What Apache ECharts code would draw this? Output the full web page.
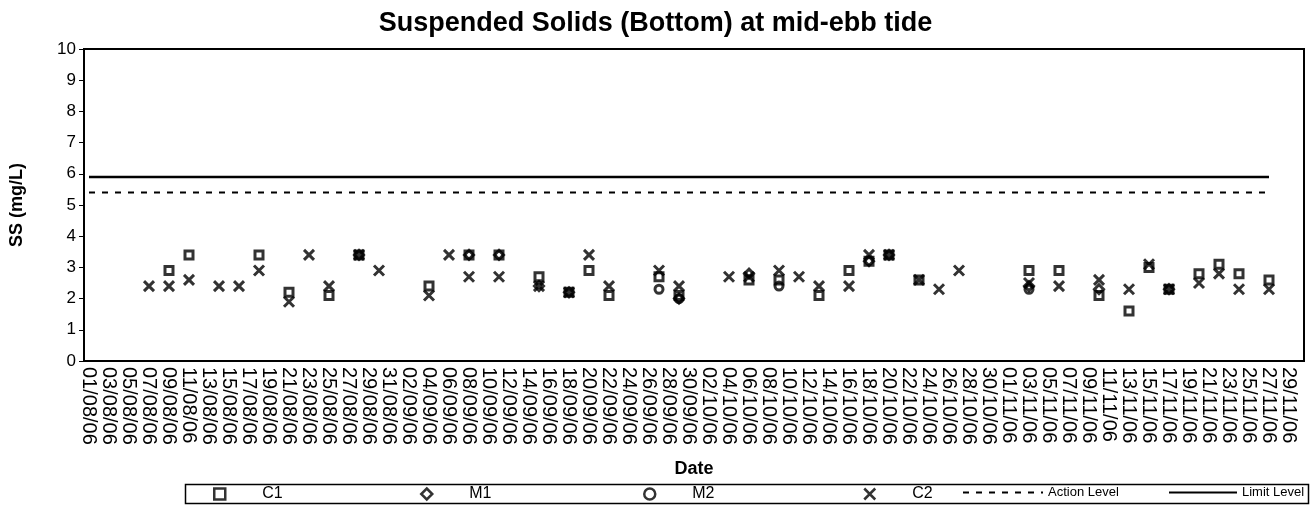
<!DOCTYPE html>
<html>
<head>
<meta charset="utf-8">
<title>Suspended Solids (Bottom) at mid-ebb tide</title>
<script src="https://cdn.jsdelivr.net/npm/echarts@6/dist/echarts.min.js"></script>
<style>
html, body { margin: 0; padding: 0; background: #fff; }
#chart { width: 1311px; height: 522px; }
</style>
</head>
<body>
<div id="chart"></div>
<script>
// sampling dates (dd/mm/yy) and readings, null = no marker
var sampleDates = ['07/08/06', '09/08/06', '11/08/06', '14/08/06', '16/08/06', '18/08/06', '21/08/06',
    '23/08/06', '25/08/06', '28/08/06', '30/08/06', '04/09/06', '06/09/06', '08/09/06', '11/09/06',
    '15/09/06', '18/09/06', '20/09/06', '22/09/06', '27/09/06', '29/09/06', '04/10/06', '06/10/06',
    '09/10/06', '11/10/06', '13/10/06', '16/10/06', '18/10/06', '20/10/06', '23/10/06', '25/10/06',
    '27/10/06', '03/11/06', '06/11/06', '10/11/06', '13/11/06', '15/11/06', '17/11/06', '20/11/06',
    '22/11/06', '24/11/06', '27/11/06'];
var c1 = [null, 2.9, 3.4, null, null, 3.4, 2.2, null, 2.1, 3.4, null, 2.4, null, 3.4, 3.4, 2.7, 2.2, 2.9, 2.1, 2.7, 2.1,
    null, 2.6, 2.6, null, 2.1, 2.9, 3.2, 3.4, 2.6, null, null, 2.9, 2.9, 2.1, 1.6, 3.0, 2.3, 2.8, 3.1, 2.8, 2.6];
var m1 = [null, null, null, null, null, null, null, null, null, 3.4, null, null, null, 3.4, 3.4, 2.4, 2.2, null, null, null, 2.0,
    null, 2.8, null, null, null, null, 3.2, 3.4, null, null, null, 2.4, null, 2.3, null, null, 2.3, null, null, null, null];
var m2 = [null, null, null, null, null, null, null, null, null, null, null, null, null, null, null, null, null, null, null, 2.3, 2.0,
    null, null, 2.4, null, null, null, null, null, null, null, null, 2.3, null, null, null, null, null, null, null, null, null];
var c2 = [2.4, 2.4, 2.6, 2.4, 2.4, 2.9, 1.9, 3.4, 2.4, 3.4, 2.9, 2.1, 3.4, 2.7, 2.7, 2.4, 2.2, 3.4, 2.4, 2.9, 2.4,
    2.7, 2.7, 2.9, 2.7, 2.4, 2.4, 3.4, 3.4, 2.6, 2.3, 2.9, 2.5, 2.4, 2.6, 2.3, 3.1, 2.3, 2.5, 2.8, 2.3, 2.3];

var levelDates = ['01/08/06', '27/11/06'];
var actionLevel = 5.4;
var limitLevel = 5.9;

// the date axis runs one category per day
var axisStart = '01/08/06';
var axisEnd = '30/11/06';

var FONT = '"Liberation Sans", Arial, sans-serif';
var DAY = 86400000;

function toTime(s) {
    var p = s.split('/');
    return Date.UTC(2000 + parseInt(p[2], 10), parseInt(p[1], 10) - 1, parseInt(p[0], 10));
}
function pad(n) {
    return n < 10 ? '0' + n : '' + n;
}
function allDays() {
    var out = [];
    for (var t = toTime(axisStart); t <= toTime(axisEnd); t += DAY) {
        var d = new Date(t);
        out.push(pad(d.getUTCDate()) + '/' + pad(d.getUTCMonth() + 1) + '/' + pad(d.getUTCFullYear() % 100));
    }
    return out;
}
var dayLabels = allDays();

function points(vals) {
    var out = [];
    sampleDates.forEach(function (d, i) {
        if (vals[i] != null) out.push([d, vals[i]]);
    });
    return out;
}
function levelLine(v) {
    return levelDates.map(function (d) { return [d, v]; });
}
function markerLegend(name, left) {
    return {
        data: [name], left: left, top: 486, padding: 0, itemGap: 0,
        itemWidth: 11, itemHeight: 11, selectedMode: false,
        itemStyle: { borderWidth: 2.5 },
        textStyle: { fontFamily: FONT, fontSize: 16, color: '#000', padding: [0, 0, 0, 32] }
    };
}
function lineLegend(name, left, width) {
    return {
        data: [name], left: left, top: 486, padding: 0, itemGap: 0,
        itemWidth: width, itemHeight: 11, selectedMode: false,
        itemStyle: { color: 'rgba(0,0,0,0)', borderColor: 'rgba(0,0,0,0)', borderWidth: 0 },
        textStyle: { fontFamily: FONT, fontSize: 13, color: '#000' }
    };
}

var hollow = { color: 'rgba(0,0,0,0)', borderColor: '#000', borderWidth: 3 };

var myChart = echarts.init(document.getElementById('chart'));
var option = {
    animation: false,
    backgroundColor: '#fff',
    textStyle: { fontFamily: FONT },
    title: {
        text: 'Suspended Solids (Bottom) at mid-ebb tide',
        left: 'center', top: 5,
        textStyle: { fontFamily: FONT, fontSize: 27, fontWeight: 'bold', color: '#000' }
    },
    legend: [
        markerLegend('C1', 213),
        markerLegend('M1', 420),
        markerLegend('M2', 643),
        markerLegend('C2', 863),
        lineLegend('Action Level', 962, 80),
        lineLegend('Limit Level', 1168, 68)
    ],
    graphic: [{
        type: 'rect', left: 183, top: 482,
        shape: { width: 1123, height: 19 },
        style: { fill: 'none', stroke: '#000', lineWidth: 1.5 },
        silent: true, z: -1
    }],
    grid: {
        left: 84, right: 7, top: 49, bottom: 161,
        show: true, borderColor: '#000', borderWidth: 2
    },
    xAxis: {
        type: 'category',
        data: dayLabels,
        boundaryGap: true,
        name: 'Date', nameLocation: 'middle', nameGap: 99,
        nameTextStyle: { fontFamily: FONT, fontSize: 18, fontWeight: 'bold', color: '#000' },
        axisLine: { onZero: false, lineStyle: { color: '#000', width: 2 } },
        axisTick: { interval: 1, length: 5, lineStyle: { color: '#000', width: 1 } },
        axisLabel: { interval: 1, rotate: -90, margin: 6, fontFamily: FONT, fontSize: 20, color: '#000' },
        splitLine: { show: false }
    },
    yAxis: {
        type: 'value',
        min: 0, max: 10, interval: 1,
        name: 'SS (mg/L)', nameLocation: 'middle', nameGap: 58,
        nameTextStyle: { fontFamily: FONT, fontSize: 18, fontWeight: 'bold', color: '#000' },
        axisLine: { show: true, lineStyle: { color: '#000', width: 2 } },
        axisTick: { show: true, length: 5, lineStyle: { color: '#000', width: 1 } },
        axisLabel: { margin: 8, fontFamily: FONT, fontSize: 17, color: '#000' },
        splitLine: { show: false }
    },
    series: [
        {
            name: 'C1', type: 'scatter', symbol: 'rect', symbolSize: 8,
            itemStyle: hollow, data: points(c1), z: 4
        },
        {
            name: 'M1', type: 'scatter', symbol: 'diamond', symbolSize: 9,
            itemStyle: hollow, data: points(m1), z: 4
        },
        {
            name: 'M2', type: 'scatter', symbol: 'circle', symbolSize: 8,
            itemStyle: hollow, data: points(m2), z: 4
        },
        {
            name: 'C2', type: 'scatter', symbol: 'path://M0,0L10,10M10,0L0,10', symbolSize: 10,
            itemStyle: { color: 'rgba(0,0,0,0)', borderColor: '#000', borderWidth: 3 },
            data: points(c2), z: 4
        },
        {
            name: 'Action Level', type: 'line', symbol: 'none',
            lineStyle: { color: '#000', width: 2, type: [6, 7] },
            itemStyle: { color: '#000' },
            data: levelLine(actionLevel), z: 2
        },
        {
            name: 'Limit Level', type: 'line', symbol: 'none',
            lineStyle: { color: '#000', width: 2.5 },
            itemStyle: { color: '#000' },
            data: levelLine(limitLevel), z: 2
        }
    ]
};
myChart.setOption(option);
</script>
</body>
</html>
